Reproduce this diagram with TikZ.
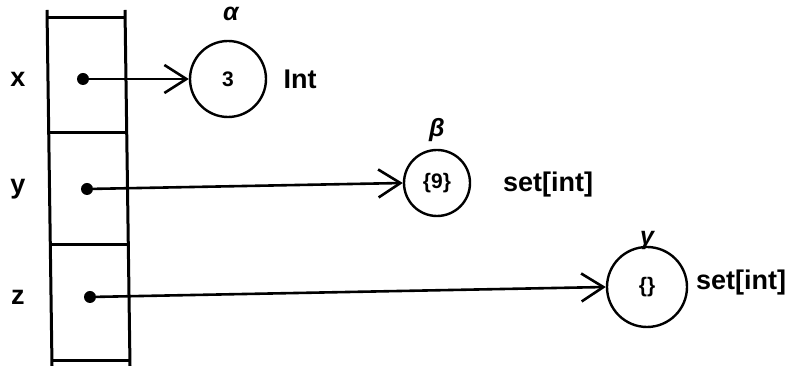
\documentclass[tikz,border=0pt]{standalone}
\usepackage{fontspec}
\setmainfont{Liberation Sans}
\usetikzlibrary{arrows.meta}
\begin{document}
\begin{tikzpicture}[x=1pt,y=1pt,
  stackline/.style={line width=3pt},
  obj/.style={circle,draw,line width=2.4pt,inner sep=0pt},
  dotnode/.style={circle,fill,inner sep=0pt,minimum size=12pt},
  lbl/.style={font=\fontsize{27}{29}\selectfont\bfseries,inner sep=0pt},
  val/.style={font=\fontsize{21}{23}\selectfont\bfseries,inner sep=0pt},
  grk/.style={font=\fontsize{25}{27}\selectfont\bfseries\itshape,inner sep=0pt},
  ptr/.style={line width=2.6pt,-{Straight Barb[length=22pt,width=28pt,line width=2.6pt]}}]
\useasboundingbox (0,0) rectangle (788,366);
% stack frame
\coordinate (lt) at (47,356); \coordinate (lb) at (52,0);
\coordinate (rt) at (125,356); \coordinate (rb) at (130,0);
\draw[stackline] (lt) -- (lb);
\draw[stackline] (rt) -- (rb);
\coordinate (s0l) at (47.5,348); \coordinate (s0r) at (125.5,348);
\coordinate (s1l) at (48.5,233); \coordinate (s1r) at (126.5,233);
\coordinate (s2l) at (50,121);   \coordinate (s2r) at (128,121);
\coordinate (s3l) at (51.5,5);   \coordinate (s3r) at (129.5,5);
\draw[stackline] (s0l) -- (s0r);
\draw[stackline] (s1l) -- (s1r);
\draw[stackline] (s2l) -- (s2r);
\draw[stackline] (s3l) -- (s3r);
% variable labels
\node[lbl] (lx) at (18,287) {x};
\node[lbl] (ly) at (18,177) {y};
\node[lbl] (lz) at (18,69) {z};
% dots
\node[dotnode] (dx) at (83,287) {};
\node[dotnode] (dy) at (87,177) {};
\node[dotnode] (dz) at (90,69) {};
% objects
\node[obj,minimum size=76pt,val] (oa) at (228,287) {3};
\node[obj,minimum size=66pt,val] (ob) at (437,183) {\{9\}};
\node[obj,minimum size=80pt,val] (oc) at (647,79) {\{\}};
% greek names
\node[grk] (ga) at (231,352) {α};
\node[grk] (gb) at (437,236) {β};
\node[grk] (gc) at (647,126) {γ};
% types
\node[lbl] (ta) at (300,287) {Int};
\node[lbl] (tb) at (548,181) {set[int]};
\node[lbl] (tc) at (741,83) {set[int]};
% pointers
\draw[ptr] (dx) -- (oa);
\draw[ptr] (dy) -- (ob.west);
\draw[ptr] (dz) -- (oc.west);
\end{tikzpicture}
\end{document}
